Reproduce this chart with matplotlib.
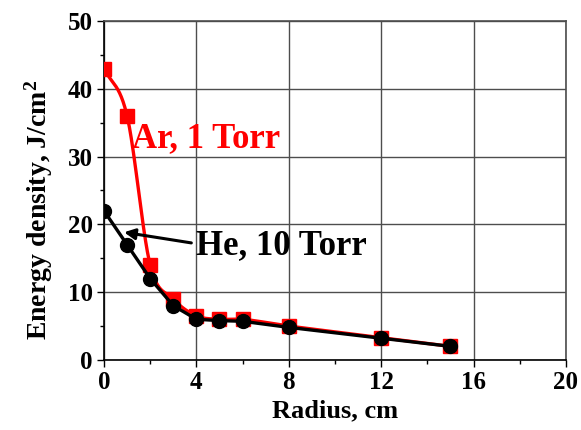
import numpy as np
import matplotlib.pyplot as plt
from matplotlib.ticker import MultipleLocator

plt.rcParams['font.family'] = ['Liberation Serif', 'DejaVu Serif']
plt.rcParams['font.weight'] = 'bold'
plt.rcParams['mathtext.fontset'] = 'custom'
plt.rcParams['mathtext.rm'] = 'Liberation Serif:bold'
plt.rcParams['mathtext.it'] = 'Liberation Serif:bold'
plt.rcParams['mathtext.bf'] = 'Liberation Serif:bold'

# data
radius = [0, 1, 2, 3, 4, 5, 6, 8, 12, 15]
ar_1torr = [43, 36, 14, 9, 6.5, 6, 6, 5, 3.3, 2]
he_10torr = [22, 17, 12, 8, 6, 5.8, 5.7, 4.8, 3.2, 2]


def smooth_curve(x, y, xs):
    # cardinal (catmull-rom) hermite curve through the points, for the red line
    x = np.asarray(x, float)
    y = np.asarray(y, float)
    n = len(x)
    h = np.diff(x)
    m = np.zeros(n)
    m[1:-1] = (y[2:] - y[:-2]) / (x[2:] - x[:-2])
    m[0] = (y[1] - y[0]) / h[0]
    m[-1] = (y[-1] - y[-2]) / h[-1]
    idx = np.clip(np.searchsorted(x, xs) - 1, 0, n - 2)
    t = (xs - x[idx]) / h[idx]
    h00 = 2 * t**3 - 3 * t**2 + 1
    h10 = t**3 - 2 * t**2 + t
    h01 = -2 * t**3 + 3 * t**2
    h11 = t**3 - t**2
    return h00 * y[idx] + h10 * h[idx] * m[idx] + h01 * y[idx + 1] + h11 * h[idx] * m[idx + 1]


fig = plt.figure(figsize=(5.81, 4.30), dpi=100)
ax = fig.add_axes([0.179, 0.163, 0.795, 0.788])

xs = np.linspace(radius[0], radius[-1], 600)
ax.plot(xs, smooth_curve(radius, ar_1torr, xs), color='#ff0000', lw=2.4, zorder=3)
ax.plot(radius, ar_1torr, 's', color='#ff0000', ms=9.5, zorder=3)
ax.plot(radius, he_10torr, '-o', color='black', lw=2.4, ms=10, zorder=4)

ax.text(1.2, 32.6, 'Ar, 1 Torr', color='#ff0000', fontsize=25,
        fontweight='bold', va='center', ha='left')
ax.text(4.0, 16.9, 'He, 10 Torr', color='black', fontsize=25,
        fontweight='bold', va='center', ha='left')
ax.annotate('', xy=(0.75, 18.9), xytext=(3.9, 17.2),
            arrowprops=dict(arrowstyle='-|>', color='black', lw=2.2,
                            mutation_scale=16))

ax.set_xlim(0, 20)
ax.set_ylim(0, 50)
ax.xaxis.set_major_locator(MultipleLocator(4))
ax.xaxis.set_minor_locator(MultipleLocator(2))
ax.yaxis.set_major_locator(MultipleLocator(10))
ax.yaxis.set_minor_locator(MultipleLocator(5))
ax.tick_params(which='major', direction='out', length=5, width=1,
               labelsize=18, pad=3)
ax.tick_params(which='minor', direction='out', length=3, width=1)
ax.grid(True, which='major', color='#4d4d4d', lw=1)
ax.set_axisbelow(True)
for s in ['top', 'right']:
    ax.spines[s].set_color('#4d4d4d')
    ax.spines[s].set_linewidth(1.2)
for s in ['left', 'bottom']:
    ax.spines[s].set_linewidth(1.2)

ax.set_xlabel('Radius, cm', fontsize=19, fontweight='bold', labelpad=4)
ax.set_ylabel('Energy density, J/cm$^{2}$', fontsize=20, fontweight='bold')
ax.yaxis.set_label_coords(-0.107, 0.442)

fig.savefig('out.png', dpi=100)
